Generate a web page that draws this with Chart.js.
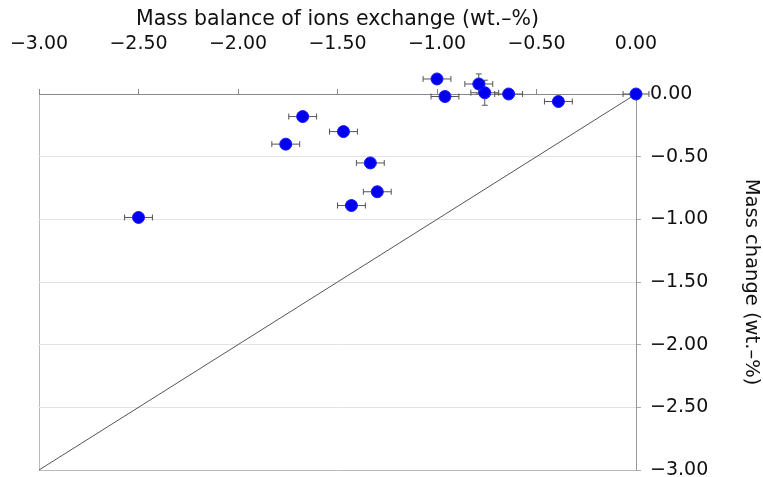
<!DOCTYPE html>
<html>
<head>
<meta charset="utf-8">
<script src="https://cdn.jsdelivr.net/npm/chart.js@4.4.0/dist/chart.umd.min.js"></script>
<style>
  html, body { margin: 0; padding: 0; background: #fff; }
  #wrap { width: 763px; height: 477px; position: relative; }
</style>
</head>
<body>
<div id="wrap"><canvas id="chart"></canvas></div>
<script>
// values
const ionBalance = [0, -0.39, -0.64, -0.76, -0.79, -0.96, -1.00, -1.30, -1.335, -1.43, -1.47, -1.675, -1.76, -2.50];
const massChange = [0, -0.06, 0, 0.01, 0.08, -0.02, 0.12, -0.78, -0.55, -0.89, -0.30, -0.18, -0.40, -0.985];
const ionBalanceErr = [0.065, 0.07, 0.07, 0.07, 0.07, 0.07, 0.07, 0.07, 0.07, 0.07, 0.07, 0.07, 0.07, 0.07];
const massChangeErr = [0, 0, 0, 0.1, 0.08, 0, 0, 0, 0, 0, 0, 0.03, 0, 0];
const identityLine = [-3, 0];
const axisMin = -3;
const axisMax = 0;
const tickStep = 0.5;

const fmt = v => v.toFixed(2).replace('-', '\u2212');

const points = ionBalance.map((x, i) => ({ x: x, y: massChange[i] }));
const diagonal = identityLine.map(v => ({ x: v, y: v }));

// horizontal / vertical error bars, drawn under the markers
const errorBars = {
    id: 'errorBars',
    beforeDatasetsDraw(chart) {
        const ctx = chart.ctx;
        const xs = chart.scales.x;
        const ys = chart.scales.y;
        const cap = 3;
        ctx.save();
        ctx.strokeStyle = '#555';
        ctx.lineWidth = 1;
        ionBalance.forEach((x, i) => {
            const y = massChange[i];
            const py = ys.getPixelForValue(y);
            const px = xs.getPixelForValue(x);
            if (ionBalanceErr[i] > 0) {
                const x1 = xs.getPixelForValue(x - ionBalanceErr[i]);
                const x2 = xs.getPixelForValue(x + ionBalanceErr[i]);
                ctx.beginPath();
                ctx.moveTo(x1, py); ctx.lineTo(x2, py);
                ctx.moveTo(x1, py - cap); ctx.lineTo(x1, py + cap);
                ctx.moveTo(x2, py - cap); ctx.lineTo(x2, py + cap);
                ctx.stroke();
            }
            if (massChangeErr[i] > 0) {
                const y1 = ys.getPixelForValue(y - massChangeErr[i]);
                const y2 = ys.getPixelForValue(y + massChangeErr[i]);
                ctx.beginPath();
                ctx.moveTo(px, y1); ctx.lineTo(px, y2);
                ctx.moveTo(px - cap, y1); ctx.lineTo(px + cap, y1);
                ctx.moveTo(px - cap, y2); ctx.lineTo(px + cap, y2);
                ctx.stroke();
            }
        });
        ctx.restore();
    }
};

// points just above the top axis must still be drawn, so widen the area while datasets draw
const wideArea = {
    id: 'wideArea',
    beforeDatasetsDraw(chart) {
        const a = chart.chartArea;
        chart._realArea = a;
        chart.chartArea = {
            left: a.left - 30, right: a.right + 30, top: a.top - 40, bottom: a.bottom + 30,
            width: a.width + 60, height: a.height + 70
        };
    },
    afterDatasetsDraw(chart) {
        chart.chartArea = chart._realArea;
    }
};

const ctx = document.getElementById('chart').getContext('2d');
new Chart(ctx, {
    type: 'scatter',
    data: {
        datasets: [{
            label: 'Samples',
            data: points,
            backgroundColor: '#0000ee',
            borderColor: '#1a1aff',
            borderWidth: 1,
            pointRadius: 6,
            clip: false
        }, {
            type: 'line',
            label: 'Identity',
            data: diagonal,
            borderColor: '#555',
            borderWidth: 1,
            pointRadius: 0,
            fill: false,
            clip: false
        }]
    },
    options: {
        responsive: true,
        maintainAspectRatio: false,
        animation: false,
        layout: { padding: { left: 39, right: 0, top: 0, bottom: 7 } },
        plugins: {
            legend: { display: false },
            tooltip: { enabled: false }
        },
        scales: {
            x: {
                type: 'linear',
                position: 'top',
                min: axisMin,
                max: axisMax,
                afterFit: s => { s.height = 94; s.paddingLeft = 0; s.paddingRight = 0; },
                border: { display: true, color: '#888', width: 1 },
                grid: {
                    drawOnChartArea: true,
                    drawTicks: true,
                    tickLength: 5,
                    tickColor: '#888',
                    color: c => c.tick && c.tick.value === axisMin ? '#bbb' : 'rgba(0,0,0,0)'
                },
                ticks: {
                    stepSize: tickStep,
                    padding: 34,
                    color: '#111',
                    font: { family: 'DejaVu Sans', size: 19 },
                    maxRotation: 0,
                    callback: v => fmt(v)
                },
                title: {
                    display: true,
                    text: 'Mass balance of ions exchange (wt.\u2013%)',
                    color: '#111',
                    font: { family: 'DejaVu Sans', size: 20.5 },
                    padding: { top: 7, bottom: 0 }
                }
            },
            y: {
                type: 'linear',
                position: 'right',
                min: axisMin,
                max: axisMax,
                afterFit: s => { s.width = 127; s.paddingTop = 0; s.paddingBottom = 0; },
                border: { display: true, color: '#999', width: 1 },
                grid: {
                    color: c => c.tick && c.tick.value === axisMin ? '#bbb' : '#e2e2e2',
                    tickColor: '#aaa',
                    tickLength: 5
                },
                ticks: {
                    stepSize: tickStep,
                    padding: 9,
                    color: '#111',
                    font: { family: 'DejaVu Sans', size: 19 },
                    callback: v => fmt(v)
                },
                title: {
                    display: true,
                    text: 'Mass change (wt.\u2013%)',
                    color: '#111',
                    font: { family: 'DejaVu Sans', size: 19.5 },
                    padding: { top: 0, bottom: 0 }
                }
            }
        }
    },
    plugins: [errorBars, wideArea]
});
</script>
</body>
</html>
